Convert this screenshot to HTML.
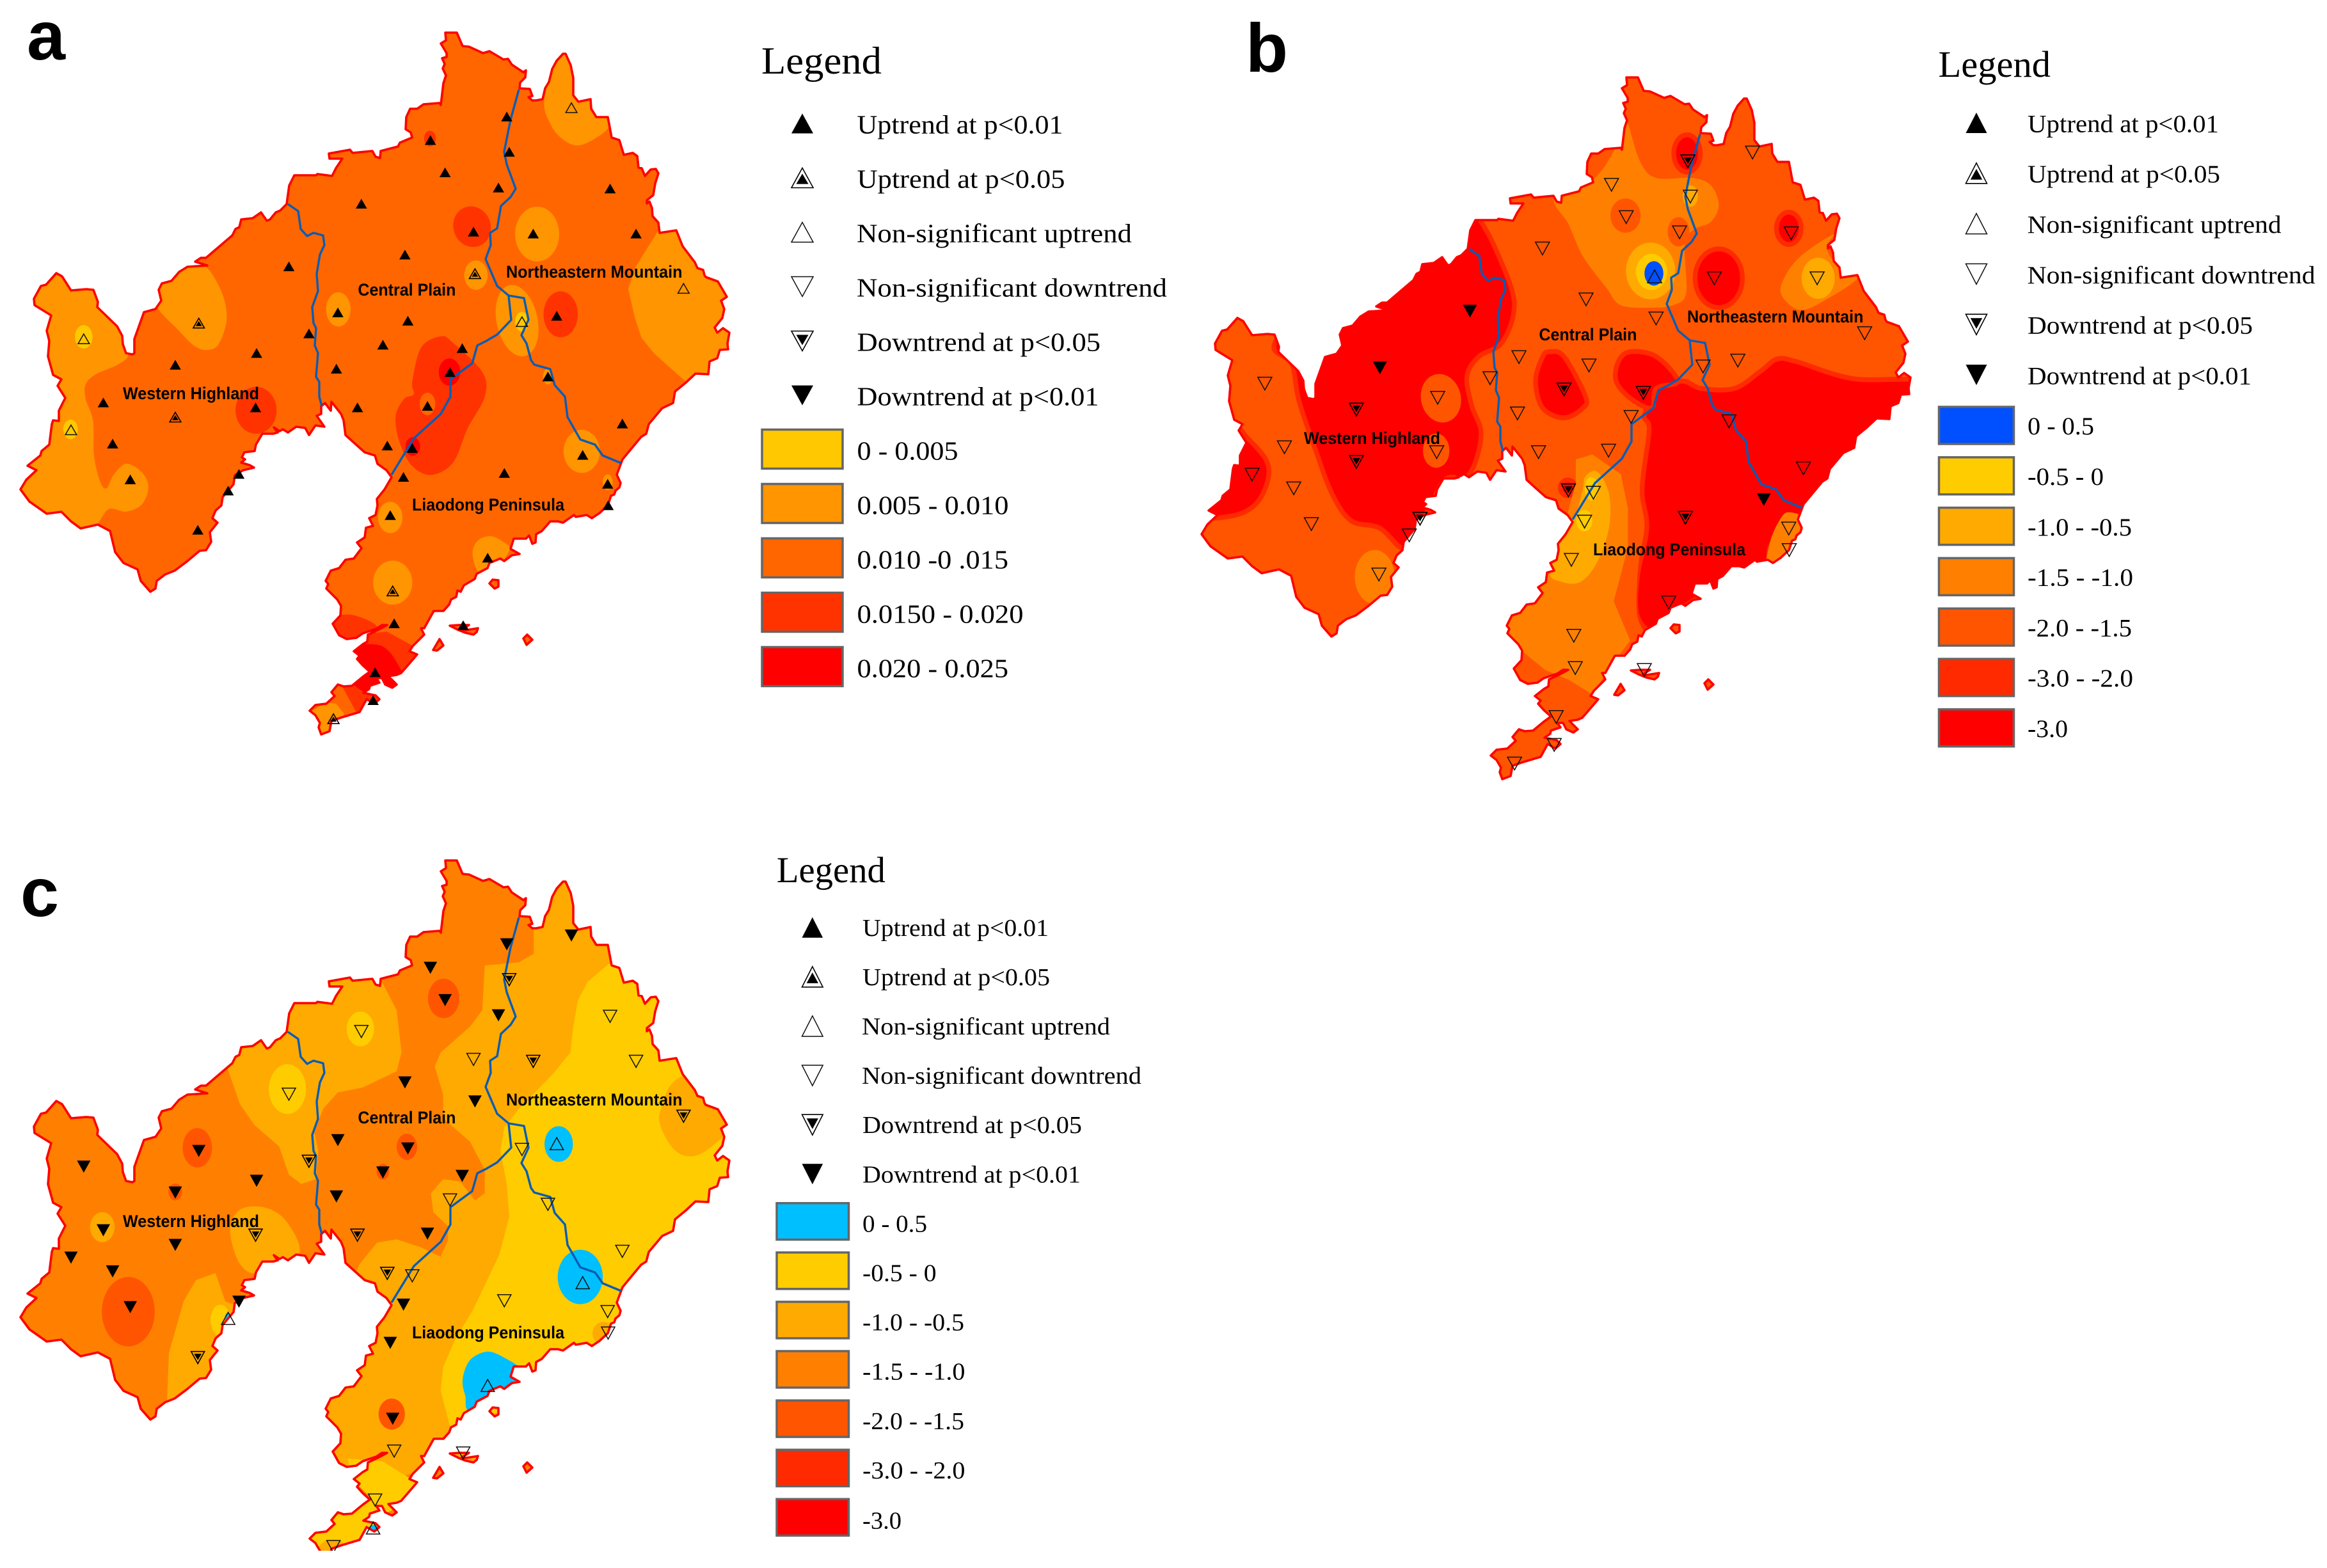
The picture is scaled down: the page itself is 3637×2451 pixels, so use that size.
<!DOCTYPE html>
<html lang="en">
<head>
<meta charset="utf-8">
<title>Trend maps of Liaoning regions</title>
<style>
html,body{margin:0;padding:0;background:#fff;}
svg{display:block;}
.lt{font-family:"Liberation Serif",serif;fill:#000;}
.rl{font-family:"Liberation Sans",sans-serif;font-weight:bold;font-size:26.5px;fill:#000;}
.pl{font-family:"Liberation Sans",sans-serif;font-weight:bold;font-size:108px;fill:#000;}
.sw{stroke:#666;stroke-width:3.5;}
.sy{vector-effect:non-scaling-stroke;}
</style>
</head>
<body>
<svg id="fig" xmlns="http://www.w3.org/2000/svg" width="3637" height="2451" viewBox="0 0 3637 2451">
<defs>
<path id="coast" d="M696,51L714,51L723,72L733,73L755,83L765,80L787,93L794,92L800,101L818,113L822,110L821,121L813,129L812,138L828,139L832,150L826,152L832,157L838,157L848,155L852,138L858,128L863,108L870,95L880,84L884,84L892,102L896,122L896,149L904,159L923,155L924,170L932,183L950,183L956,215L968,219L975,242L989,239L996,244L998,262L1003,263L1008,275L1017,265L1025,264L1029,271L1024,287L1021,305L1011,313L1011,318L1015,315L1019,325L1020,338L1029,348L1031,364L1057,360L1067,385L1086,410L1090,419L1099,422L1101,430L1103,433L1122,440L1136,464L1127,470L1132,483L1129,497L1117,512L1121,520L1130,513L1140,520L1137,537L1138,546L1125,547L1121,560L1109,565L1107,585L1087,584L1072,598L1055,612L1052,630L1035,638L1014,663L1010,678L1002,683L973,718L964,742L970,755L968,762L962,767L960,773L955,775L950,790L937,802L925,810L917,805L900,808L897,805L880,817L872,815L860,815L847,830L838,835L837,848L832,850L827,837L822,842L803,842L798,858L812,866L800,868L788,877L782,873L765,880L762,888L745,897L742,905L725,915L720,925L715,923L713,933L705,937L702,945L693,955L678,955L663,982L658,982L663,992L645,1010L640,1018L652,1023L640,1037L627,1052L620,1055L607,1057L620,1070L613,1075L602,1070L597,1060L588,1060L593,1067L578,1072L577,1077L568,1083L587,1087L593,1093L585,1100L573,1093L562,1113L532,1122L518,1127L515,1143L502,1148L498,1137L500,1130L493,1118L484,1111L493,1102L510,1100L523,1088L518,1082L528,1070L537,1073L550,1072L567,1058L578,1050L567,1040L558,1030L562,1025L553,1018L567,1007L574,1003L575,992L590,985L605,977L597,977L588,983L567,990L557,997L542,999L530,993L520,975L532,962L533,947L527,937L510,920L513,913L509,908L517,892L530,888L540,875L553,873L565,857L558,848L570,840L572,825L583,822L577,810L587,805L590,790L589,780L601,765L612,746L604,735L590,725L586,712L570,707L551,690L540,680L537,657L533,647L518,628L517,642L508,630L502,635L502,647L495,650L507,667L493,665L483,680L477,669L463,667L450,676L442,671L437,674L428,668L434,676L427,678L410,678L400,695L398,705L382,707L378,715L383,718L377,723L390,727L397,731L380,735L367,743L365,757L348,777L346,790L337,798L332,810L340,817L328,832L330,847L322,860L312,861L293,877L273,892L258,898L245,908L243,920L235,925L220,908L215,890L193,880L180,863L172,830L153,820L126,826L111,815L96,800L73,803L46,784L32,765L41,750L57,735L43,728L63,712L65,705L77,695L81,663L83,657L92,658L92,642L102,622L90,603L96,593L83,586L75,557L77,533L73,517L80,493L54,477L53,467L64,447L72,445L88,427L97,432L111,454L135,452L146,453L153,472L152,480L183,510L191,525L192,538L197,552L207,554L210,552L210,530L225,488L243,483L252,470L248,453L253,443L268,439L280,425L293,417L324,415L305,409L314,403L322,403L363,368L368,358L374,355L377,343L395,341L408,332L417,345L422,343L431,332L438,329L448,319L452,290L460,274L494,274L496,272L519,275L525,263L535,248L515,248L514,240L547,234L551,239L582,236L587,245L594,247L595,236L622,229L625,223L644,215L642,207L634,202L635,183L641,170L652,170L662,163L687,161L689,164L693,130L697,118L692,107L695,100L691,91L698,89L698,83L689,68L697,63ZM765,912L770,906L779,907L779,917L773,920ZM677,1016L687,999L693,1009L683,1017ZM703,978L717,977L733,977L722,984L728,985L747,982L745,988L740,992L727,989L717,985ZM818,998L824,992L832,1000L823,1008Z"/>
<path id="rivers" d="M450,319L466,330L470,358L480,369L490,364L505,368L507,383L500,398L495,428L497,455L488,480L490,505L494,513L492,540L497,552L494,589L499,597L499,620L503,635M811,140L798,187L788,237L792,257L806,295L798,308L783,322L777,357L766,364L767,383L759,405L777,447L795,462L819,466L826,500L815,524L823,537L830,563L835,570L860,577L867,602L883,620L887,652L907,687L930,695L942,712L971,724M795,463L799,500L777,523L760,533L746,540L738,568L704,593L704,620L689,647L647,685L612,742"/>
<clipPath id="prov"><use href="#coast"/></clipPath>
<g id="U1"><polygon class="sy" points="0,-1 1,1 -1,1" fill="#000"/></g>
<g id="U5"><polygon class="sy" points="0,-1 1,1 -1,1" fill="none" stroke="#000" stroke-width="1.6"/><polygon class="sy" points="0,-.42 .56,.62 -.56,.62" fill="#000"/></g>
<g id="UN"><polygon class="sy" points="0,-1 1,1 -1,1" fill="none" stroke="#111" stroke-width="1.5"/></g>
<g id="D1"><polygon class="sy" points="0,1 1,-1 -1,-1" fill="#000"/></g>
<g id="D5"><polygon class="sy" points="0,1 1,-1 -1,-1" fill="none" stroke="#000" stroke-width="1.6"/><polygon class="sy" points="0,.42 .56,-.62 -.56,-.62" fill="#000"/></g>
<g id="DN"><polygon class="sy" points="0,1 1,-1 -1,-1" fill="none" stroke="#111" stroke-width="1.5"/></g>
</defs>

<!-- MAP A -->
<g id="map-a">
<g clip-path="url(#prov)">
<rect x="0" y="0" width="1200" height="1200" fill="#ff6600"/>
<g transform="scale(.7653)">
<g fill="#ff9500">
<polygon class="s" points="60,540 200,600 250,690 262,725 240,745 195,765 175,785 175,815 190,860 192,930 205,985 218,997 232,970 258,947 290,965 303,995 290,1030 258,1045 222,1040 195,1075 150,1110 10,1060 10,600"/>
<polygon class="s" points="420,545 445,580 460,620 462,660 445,705 420,715 395,705 365,675 322,628 325,590 380,535"/>
<polygon points="1345,470 1320,510 1298,545 1283,590 1296,647 1310,690 1337,723 1401,780 1520,760 1520,460"/>
<polygon class="s" points="1150,90 1112,200 1125,255 1150,285 1180,297 1215,283 1245,255 1240,200 1200,90"/>
<ellipse cx="1097" cy="478" rx="45" ry="56"/>
<ellipse cx="972" cy="562" rx="24" ry="30"/>
<ellipse cx="691" cy="632" rx="25" ry="35"/>
<ellipse cx="1056" cy="655" rx="42" ry="74" transform="rotate(-12 1056 655)"/>
<ellipse cx="1188" cy="922" rx="37" ry="44"/>
<ellipse cx="797" cy="1057" rx="25" ry="32"/>
<ellipse cx="802" cy="1190" rx="40" ry="45"/>
<ellipse cx="1241" cy="985" rx="10" ry="16"/>
<ellipse cx="1119" cy="769" rx="10" ry="16"/>
<polygon class="s" points="965,1130 975,1105 1000,1095 1025,1105 1040,1125 1000,1175 975,1165"/>
</g>
<g fill="#ffc800">
<ellipse cx="1066" cy="657" rx="14" ry="20"/>
<ellipse cx="171" cy="688" rx="18" ry="24"/>
<ellipse cx="144" cy="877" rx="15" ry="20"/>
</g>
<g fill="#ff3300">
<ellipse cx="964" cy="463" rx="38" ry="42" transform="rotate(-20 964 463)"/>
<ellipse cx="1145" cy="642" rx="35" ry="47"/>
<ellipse cx="523" cy="838" rx="42" ry="48"/>
<ellipse cx="878" cy="283" rx="12" ry="16"/>
<polygon class="s" points="900,687 925,700 985,760 990,810 955,875 925,945 880,970 840,950 815,900 808,850 825,815 845,805 842,780 860,710"/>
<polygon class="s" points="670,1275 695,1257 728,1258 770,1280 750,1310 700,1325"/>
<polygon points="745,1295 790,1290 845,1320 870,1340 800,1420 700,1400 710,1340"/>
<polygon points="699,1402 725,1392 784,1405 784,1444 732,1463"/>
</g>
<ellipse cx="873" cy="825" rx="16" ry="23" fill="#ff6600"/>
<polygon points="640,1450 666,1435 686,1437 702,1457 702,1477 653,1525 620,1477" fill="#ff9500"/>
<g fill="#ff0000">
<ellipse cx="918" cy="760" rx="22" ry="28"/>
<ellipse cx="843" cy="912" rx="15" ry="19"/>
<polygon class="s" points="700,1325 762,1316 793,1329 819,1368 840,1410 780,1425 720,1395"/>
<polygon points="719,1398 755,1365 784,1378 771,1401 738,1405"/>
</g>
</g>
</g>
<use href="#coast" fill="none" stroke="#ff0000" stroke-width="3.6" stroke-linejoin="round"/>
<use href="#rivers" fill="none" stroke="#0a5cb4" stroke-width="3.4" stroke-linejoin="round"/>
<g id="stations-a"></g>
<text class="rl" x="192" y="624" textLength="213" lengthAdjust="spacingAndGlyphs">Western Highland</text>
<text class="rl" x="559.4" y="462" textLength="153" lengthAdjust="spacingAndGlyphs">Central Plain</text>
<text class="rl" x="791" y="434" textLength="275.5" lengthAdjust="spacingAndGlyphs">Northeastern Mountain</text>
<text class="rl" x="644" y="798" textLength="238" lengthAdjust="spacingAndGlyphs">Liaodong Peninsula</text>
</g>
<text class="pl" x="42" y="93">a</text>

<!-- LEGEND A -->
<g id="legend-a">
<text class="lt" x="1190" y="115" font-size="60" textLength="188" lengthAdjust="spacingAndGlyphs">Legend</text>
<use href="#U1" transform="translate(1254,193) scale(17,15.5)"/>
<use href="#U5" transform="translate(1254,278) scale(17,15.5)"/>
<use href="#UN" transform="translate(1254,363) scale(17,15.5)"/>
<use href="#DN" transform="translate(1254,448) scale(17,15.5)"/>
<use href="#D5" transform="translate(1254,533) scale(17,15.5)"/>
<use href="#D1" transform="translate(1254,618) scale(17,15.5)"/>
<g font-size="41">
<text class="lt" x="1339.5" y="208.7" textLength="322" lengthAdjust="spacingAndGlyphs">Uptrend at p&lt;0.01</text>
<text class="lt" x="1339.5" y="293.7" textLength="325" lengthAdjust="spacingAndGlyphs">Uptrend at p&lt;0.05</text>
<text class="lt" x="1339" y="378.7" textLength="430" lengthAdjust="spacingAndGlyphs">Non-significant uptrend</text>
<text class="lt" x="1339" y="463.7" textLength="485" lengthAdjust="spacingAndGlyphs">Non-significant downtrend</text>
<text class="lt" x="1339.5" y="548.7" textLength="380.6" lengthAdjust="spacingAndGlyphs">Downtrend at p&lt;0.05</text>
<text class="lt" x="1339.5" y="633.7" textLength="378" lengthAdjust="spacingAndGlyphs">Downtrend at p&lt;0.01</text>
<text class="lt" x="1339.5" y="718.7" textLength="158" lengthAdjust="spacingAndGlyphs">0 - 0.005</text>
<text class="lt" x="1339.5" y="803.7" textLength="237" lengthAdjust="spacingAndGlyphs">0.005 - 0.010</text>
<text class="lt" x="1339.5" y="888.7" textLength="236.5" lengthAdjust="spacingAndGlyphs">0.010 -0 .015</text>
<text class="lt" x="1339.5" y="973.7" textLength="260" lengthAdjust="spacingAndGlyphs">0.0150 - 0.020</text>
<text class="lt" x="1339.5" y="1058.7" textLength="236.5" lengthAdjust="spacingAndGlyphs">0.020 - 0.025</text>
</g>
<rect class="sw" x="1191" y="671.5" width="126" height="61" fill="#ffc800"/>
<rect class="sw" x="1191" y="756.5" width="126" height="61" fill="#ff9500"/>
<rect class="sw" x="1191" y="841.5" width="126" height="61" fill="#ff6600"/>
<rect class="sw" x="1191" y="926.5" width="126" height="61" fill="#ff3300"/>
<rect class="sw" x="1191" y="1011.5" width="126" height="61" fill="#ff0000"/>
</g>

<!-- MAP B -->
<g id="map-b" transform="translate(1846,70)">
<g clip-path="url(#prov)">
<rect x="0" y="0" width="1200" height="1200" fill="#ff5500"/>
<g transform="translate(14,-10) scale(.7398,.7653)">
<g fill="#ff0000" stroke="#ff2a00" stroke-width="10">
<polygon class="s" points="590,350 612,370 650,440 685,540 660,620 610,650 585,690 595,750 615,810 590,890 540,900 510,950 465,1030 445,1040 400,1000 340,985 300,930 265,840 230,740 215,665 180,620 300,500 470,420"/>
<polygon class="s" points="20,970 85,870 100,800 120,815 160,860 165,900 140,950 90,975"/>
<polygon class="s" points="1240,655 1280,660 1400,695 1560,705 1540,800 1450,800 1380,870 1300,980 1260,1000 1225,1040 1215,1110 1130,1130 1060,1150 985,1210 945,1180 945,1100 965,1000 955,920 970,800 960,770 985,715 1040,700 1080,715 1150,715 1205,680"/>
<polygon class="s" points="760,640 790,650 835,730 830,755 790,775 745,755 730,700 745,650"/>
<polygon class="s" points="930,640 985,650 1030,700 985,715 975,755 930,735 900,700 905,660"/>
<ellipse cx="1050" cy="235" rx="28" ry="38"/>
<ellipse cx="1265" cy="388" rx="26" ry="33"/>
<ellipse cx="1117" cy="490" rx="50" ry="60"/>
<ellipse cx="798" cy="918" rx="16" ry="16"/>
</g>
<g fill="#ff5500">
<ellipse cx="530" cy="735" rx="42" ry="50" transform="rotate(-15 530 735)"/>
<ellipse cx="520" cy="842" rx="28" ry="35"/>
<polygon class="s" points="925,1040 955,1000 945,1100 945,1180 965,1230 895,1180"/>
</g>
<g fill="#ff8000">
<polygon class="s" points="915,150 950,250 985,285 1060,285 1100,300 1117,340 1100,375 1065,390 1045,420 1048,520 1020,545 975,550 910,545 880,510 830,445 800,380 770,325 850,290 900,220"/>
<polygon class="s" points="1360,400 1290,445 1255,490 1250,525 1290,555 1350,530 1410,490 1380,480 1345,430"/>
<polygon points="815,860 850,850 910,890 925,960 925,1040 895,1150 930,1230 890,1280 850,1340 800,1310 750,1290 700,1250 660,1210 660,1170 760,1090 790,1010 800,960 815,910"/>
<ellipse cx="390" cy="1100" rx="42" ry="55"/>
<polygon class="s" points="1265,968 1300,990 1270,1085 1220,1085 1225,1030 1245,985"/>
</g>
<g fill="#ff5500">
<ellipse cx="920" cy="362" rx="32" ry="35"/>
<ellipse cx="1032" cy="395" rx="23" ry="30"/>
</g>
<g fill="#ffaa00">
<ellipse cx="973" cy="475" rx="52" ry="58"/>
<ellipse cx="1057" cy="322" rx="16" ry="22"/>
<ellipse cx="1327" cy="490" rx="35" ry="42"/>
<polygon class="s" points="835,895 860,885 885,930 885,1000 860,1070 825,1110 785,1110 760,1090 790,1010 815,970 830,920"/>
</g>
<g fill="#ffcc00">
<ellipse cx="975" cy="477" rx="33" ry="37"/>
<ellipse cx="848" cy="920" rx="14" ry="24"/>
<ellipse cx="833" cy="985" rx="17" ry="22"/>
</g>
<ellipse cx="980" cy="480" rx="20" ry="25" fill="#0050ff"/>
</g>
</g>
<use href="#coast" fill="none" stroke="#ff0000" stroke-width="3.6" stroke-linejoin="round"/>
<use href="#rivers" fill="none" stroke="#0a5cb4" stroke-width="3.4" stroke-linejoin="round"/>
<g id="stations-b"></g>
<text class="rl" x="192" y="624" textLength="213" lengthAdjust="spacingAndGlyphs">Western Highland</text>
<text class="rl" x="559.4" y="462" textLength="153" lengthAdjust="spacingAndGlyphs">Central Plain</text>
<text class="rl" x="791" y="434" textLength="275.5" lengthAdjust="spacingAndGlyphs">Northeastern Mountain</text>
<text class="rl" x="644" y="798" textLength="238" lengthAdjust="spacingAndGlyphs">Liaodong Peninsula</text>
</g>
<text class="pl" x="1947" y="112">b</text>

<!-- LEGEND B -->
<g id="legend-b">
<text class="lt" x="3029.5" y="120" font-size="58" textLength="175.5" lengthAdjust="spacingAndGlyphs">Legend</text>
<use href="#U1" transform="translate(3089,192) scale(16.5,16)"/>
<use href="#U5" transform="translate(3089,270.8) scale(16.5,16)"/>
<use href="#UN" transform="translate(3089,349.6) scale(16.5,16)"/>
<use href="#DN" transform="translate(3089,428.4) scale(16.5,16)"/>
<use href="#D5" transform="translate(3089,507.2) scale(16.5,16)"/>
<use href="#D1" transform="translate(3089,586) scale(16.5,16)"/>
<g font-size="39">
<text class="lt" x="3169" y="206.4" textLength="299" lengthAdjust="spacingAndGlyphs">Uptrend at p&lt;0.01</text>
<text class="lt" x="3169" y="285.2" textLength="301" lengthAdjust="spacingAndGlyphs">Uptrend at p&lt;0.05</text>
<text class="lt" x="3168.6" y="364" textLength="397" lengthAdjust="spacingAndGlyphs">Non-significant uptrend</text>
<text class="lt" x="3168.6" y="442.8" textLength="450" lengthAdjust="spacingAndGlyphs">Non-significant downtrend</text>
<text class="lt" x="3169" y="521.6" textLength="352" lengthAdjust="spacingAndGlyphs">Downtrend at p&lt;0.05</text>
<text class="lt" x="3169" y="600.4" textLength="350" lengthAdjust="spacingAndGlyphs">Downtrend at p&lt;0.01</text>
<text class="lt" x="3169" y="679.2" textLength="104" lengthAdjust="spacingAndGlyphs">0 - 0.5</text>
<text class="lt" x="3169" y="758" textLength="119" lengthAdjust="spacingAndGlyphs">-0.5 - 0</text>
<text class="lt" x="3169" y="836.8" textLength="163" lengthAdjust="spacingAndGlyphs">-1.0 - -0.5</text>
<text class="lt" x="3169" y="915.6" textLength="165" lengthAdjust="spacingAndGlyphs">-1.5 - -1.0</text>
<text class="lt" x="3169" y="994.4" textLength="163" lengthAdjust="spacingAndGlyphs">-2.0 - -1.5</text>
<text class="lt" x="3169" y="1073.2" textLength="165" lengthAdjust="spacingAndGlyphs">-3.0 - -2.0</text>
<text class="lt" x="3169" y="1152" textLength="63" lengthAdjust="spacingAndGlyphs">-3.0</text>
</g>
<rect class="sw" x="3030.5" y="636" width="117" height="58" fill="#0050ff"/>
<rect class="sw" x="3030.5" y="714.8" width="117" height="58" fill="#ffcc00"/>
<rect class="sw" x="3030.5" y="793.6" width="117" height="58" fill="#ffaa00"/>
<rect class="sw" x="3030.5" y="872.4" width="117" height="58" fill="#ff8000"/>
<rect class="sw" x="3030.5" y="951.2" width="117" height="58" fill="#ff5500"/>
<rect class="sw" x="3030.5" y="1030" width="117" height="58" fill="#ff2a00"/>
<rect class="sw" x="3030.5" y="1108.8" width="117" height="58" fill="#ff0000"/>
</g>

<!-- MAP C -->
<g id="map-c" transform="translate(0,1294)">
<g clip-path="url(#prov)">
<rect x="0" y="0" width="1200" height="1200" fill="#ff8000"/>
<g transform="translate(0,6) scale(.7653,.7342)">
<g fill="#ffaa00">
<polygon points="1090,170 1090,260 1060,278 990,285 985,380 960,415 900,470 888,500 905,560 905,610 960,660 990,720 990,770 970,785 940,745 905,740 880,770 885,810 915,840 915,870 900,905 860,885 810,868 770,875 735,920 700,1000 620,1320 690,1400 800,1380 860,1360 1500,1300 1500,60 1090,60"/>
<polygon points="465,505 490,580 520,625 570,670 590,730 615,750 645,740 650,680 642,640 660,590 690,555 740,545 810,510 820,470 810,380 780,320 700,280 590,340 480,450"/>
<polygon class="s" points="470,850 490,805 540,800 585,830 610,900 530,940 490,920"/>
<polygon points="340,1240 345,1110 375,1000 400,955 440,940 460,1000 500,1015 470,1100 440,1180"/>
<ellipse cx="209" cy="842" rx="25" ry="32"/>
</g>
<g fill="#ffcc00">
<polygon points="1245,280 1200,320 1180,360 1170,420 1165,470 1130,515 1060,590 1030,630 1022,680 1035,750 1040,820 1020,900 965,1020 930,1080 905,1140 900,1190 920,1270 1000,1240 1520,1120 1520,280"/>
<polygon points="710,1335 780,1340 850,1385 830,1430 790,1450 700,1560 610,1560 620,1480 700,1450 760,1420 720,1380"/>
<ellipse cx="587" cy="548" rx="38" ry="53"/>
<ellipse cx="736" cy="420" rx="28" ry="37"/>
<ellipse cx="450" cy="1040" rx="20" ry="33"/>
</g>
<g fill="#ffaa00">
<polygon class="s" points="1385,525 1350,590 1350,630 1380,680 1420,690 1465,660 1520,600 1500,500"/>
<ellipse cx="1232" cy="1068" rx="22" ry="24"/>
<ellipse cx="680" cy="1535" rx="32" ry="28"/>
</g>
<g fill="#ff5500">
<ellipse cx="906" cy="355" rx="32" ry="42"/>
<ellipse cx="403" cy="673" rx="30" ry="42"/>
<ellipse cx="262" cy="1022" rx="54" ry="74"/>
<ellipse cx="831" cy="671" rx="21" ry="28"/>
<ellipse cx="358" cy="767" rx="14" ry="18"/>
<ellipse cx="782" cy="724" rx="13" ry="17"/>
<ellipse cx="800" cy="1240" rx="27" ry="33"/>
</g>
<g fill="#00bfff">
<ellipse cx="1141" cy="665" rx="29" ry="38"/>
<ellipse cx="1185" cy="948" rx="46" ry="58"/>
<polygon class="s" points="945,1165 960,1125 995,1107 1030,1120 1070,1150 1070,1190 965,1235 950,1200"/>
<ellipse cx="762" cy="1490" rx="12" ry="14"/>
<ellipse cx="465" cy="1035" rx="6" ry="10"/>
</g>
</g>
</g>
<use href="#coast" fill="none" stroke="#ff0000" stroke-width="3.6" stroke-linejoin="round"/>
<use href="#rivers" fill="none" stroke="#0a5cb4" stroke-width="3.4" stroke-linejoin="round"/>
<g id="stations-c"></g>
<text class="rl" x="192" y="624" textLength="213" lengthAdjust="spacingAndGlyphs">Western Highland</text>
<text class="rl" x="559.4" y="462" textLength="153" lengthAdjust="spacingAndGlyphs">Central Plain</text>
<text class="rl" x="791" y="434" textLength="275.5" lengthAdjust="spacingAndGlyphs">Northeastern Mountain</text>
<text class="rl" x="644" y="798" textLength="238" lengthAdjust="spacingAndGlyphs">Liaodong Peninsula</text>
</g>
<rect x="0" y="2424" width="1150" height="27" fill="#fff"/>
<text class="pl" x="32" y="1432">c</text>

<!-- LEGEND C -->
<g id="legend-c">
<text class="lt" x="1213.9" y="1379" font-size="57" textLength="170" lengthAdjust="spacingAndGlyphs">Legend</text>
<use href="#U1" transform="translate(1269.8,1449.8) scale(16.3,16)"/>
<use href="#U5" transform="translate(1269.8,1526.9) scale(16.3,16)"/>
<use href="#UN" transform="translate(1269.8,1604) scale(16.3,16)"/>
<use href="#DN" transform="translate(1269.8,1681.1) scale(16.3,16)"/>
<use href="#D5" transform="translate(1269.8,1758.2) scale(16.3,16)"/>
<use href="#D1" transform="translate(1269.8,1835.3) scale(16.3,16)"/>
<g font-size="38">
<text class="lt" x="1348" y="1462.8" textLength="291" lengthAdjust="spacingAndGlyphs">Uptrend at p&lt;0.01</text>
<text class="lt" x="1348" y="1539.9" textLength="293" lengthAdjust="spacingAndGlyphs">Uptrend at p&lt;0.05</text>
<text class="lt" x="1347" y="1617" textLength="388" lengthAdjust="spacingAndGlyphs">Non-significant uptrend</text>
<text class="lt" x="1347" y="1694.1" textLength="437" lengthAdjust="spacingAndGlyphs">Non-significant downtrend</text>
<text class="lt" x="1348" y="1771.2" textLength="343" lengthAdjust="spacingAndGlyphs">Downtrend at p&lt;0.05</text>
<text class="lt" x="1348" y="1848.3" textLength="341" lengthAdjust="spacingAndGlyphs">Downtrend at p&lt;0.01</text>
<text class="lt" x="1348" y="1925.4" textLength="101" lengthAdjust="spacingAndGlyphs">0 - 0.5</text>
<text class="lt" x="1348" y="2002.5" textLength="115.5" lengthAdjust="spacingAndGlyphs">-0.5 - 0</text>
<text class="lt" x="1348" y="2079.6" textLength="159" lengthAdjust="spacingAndGlyphs">-1.0 - -0.5</text>
<text class="lt" x="1348" y="2156.7" textLength="160.5" lengthAdjust="spacingAndGlyphs">-1.5 - -1.0</text>
<text class="lt" x="1348" y="2233.8" textLength="159" lengthAdjust="spacingAndGlyphs">-2.0 - -1.5</text>
<text class="lt" x="1348" y="2310.9" textLength="160.5" lengthAdjust="spacingAndGlyphs">-3.0 - -2.0</text>
<text class="lt" x="1348" y="2389.5" textLength="61" lengthAdjust="spacingAndGlyphs">-3.0</text>
</g>
<rect class="sw" x="1214" y="1880.7" width="112.5" height="57" fill="#00bfff"/>
<rect class="sw" x="1214" y="1957.8" width="112.5" height="57" fill="#ffcc00"/>
<rect class="sw" x="1214" y="2034.9" width="112.5" height="57" fill="#ffaa00"/>
<rect class="sw" x="1214" y="2112" width="112.5" height="57" fill="#ff8000"/>
<rect class="sw" x="1214" y="2189.1" width="112.5" height="57" fill="#ff5500"/>
<rect class="sw" x="1214" y="2266.2" width="112.5" height="57" fill="#ff2a00"/>
<rect class="sw" x="1214" y="2343.3" width="112.5" height="57" fill="#ff0000"/>
</g>
</svg>

<script>
const stationEast = [1167,1035,879,1040,909,1018,1246,738,967,1089,1299,827,590,970,1396,690,1137,833,1066,406,631,171,782,944,524,358,687,919,1119,211,873,730,522,358,145,1271,791,842,230,1190,488,1030,824,266,1241,466,1242,797,404,996,802,805,946,766,762,681];
const stationSouth = [220,238,286,310,352,383,385,416,473,477,477,520,544,559,589,638,645,655,657,660,681,692,704,711,721,745,753,760,769,822,829,832,832,852,878,865,910,915,906,929,968,966,974,979,988,1002,1032,1052,1082,1139,1207,1273,1277,1373,1430,1468];
const trendA = ['UN','U1','U1','U1','U1','U1','U1','U1','U1','U1','U1','U1','U1','U5','UN','U1','U1','U1','UN','U5','U1','UN','U1','U1','U1','U1','U1','U1','U1','U1','U1','U1','U1','U5','UN','U1','U1','U1','U1','U1','U1','U1','U1','U1','U1','U1','U1','U1','U1','U1','U5','U1','U1','U1','U1','U5'];
const trendB = ['DN','D5','DN','DN','DN','DN','DN','DN','UN','DN','DN','DN','D1','DN','DN','DN','DN','DN','DN','D1','DN','DN','D5','D5','DN','D5','DN','DN','DN','DN','DN','DN','DN','D5','DN','DN','D5','DN','DN','D1','D5','D5','DN','DN','DN','DN','DN','DN','DN','DN','DN','DN','DN','DN','DN','DN'];
const trendC = ['D1','D1','D1','D5','D1','D1','DN','DN','DN','D5','DN','D1','DN','D1','D5','D1','UN','D1','DN','D1','D5','D1','D1','D1','D1','D1','D1','DN','DN','D1','D1','D5','D5','D1','D1','DN','D5','DN','D1','UN','D1','DN','D1','D1','DN','UN','DN','D1','D5','UN','D1','DN','DN','DN','UN','DN'];

const NS = 'http://www.w3.org/2000/svg';
function axisX(v){ return v * 0.7653; }
function axisY(v){ return v * 0.7653; }

function drawStations(groupId, trend, halfW, halfH){
  const g = document.getElementById(groupId);
  stationEast.forEach(function(e, i){
    const m = document.createElementNS(NS, 'use');
    m.setAttribute('href', '#' + trend[i]);
    m.setAttribute('transform', 'translate(' + axisX(e) + ',' + axisY(stationSouth[i]) + ') scale(' + halfW + ',' + halfH + ')');
    
    
    g.appendChild(m);
  });
}
drawStations('stations-a', trendA, 8.8, 7.6);
drawStations('stations-b', trendB, 11, 10);
drawStations('stations-c', trendC, 10.5, 9.5);

// Round the contour polygons into smooth closed curves
document.querySelectorAll('polygon.s').forEach(function(poly){
  const n = poly.points.numberOfItems, p = [];
  for (let i = 0; i < n; i++) { const q = poly.points.getItem(i); p.push([q.x, q.y]); }
  let d = 'M' + p[0][0] + ',' + p[0][1];
  for (let i = 0; i < n; i++) {
    const a = p[(i + n - 1) % n], b = p[i], c = p[(i + 1) % n], e = p[(i + 2) % n];
    d += 'C' + (b[0] + (c[0] - a[0]) / 6) + ',' + (b[1] + (c[1] - a[1]) / 6) + ' ' +
         (c[0] - (e[0] - b[0]) / 6) + ',' + (c[1] - (e[1] - b[1]) / 6) + ' ' + c[0] + ',' + c[1];
  }
  const path = document.createElementNS(NS, 'path');
  path.setAttribute('d', d + 'Z');
  
  
  poly.parentNode.replaceChild(path, poly);
});
</script>
</body>
</html>
